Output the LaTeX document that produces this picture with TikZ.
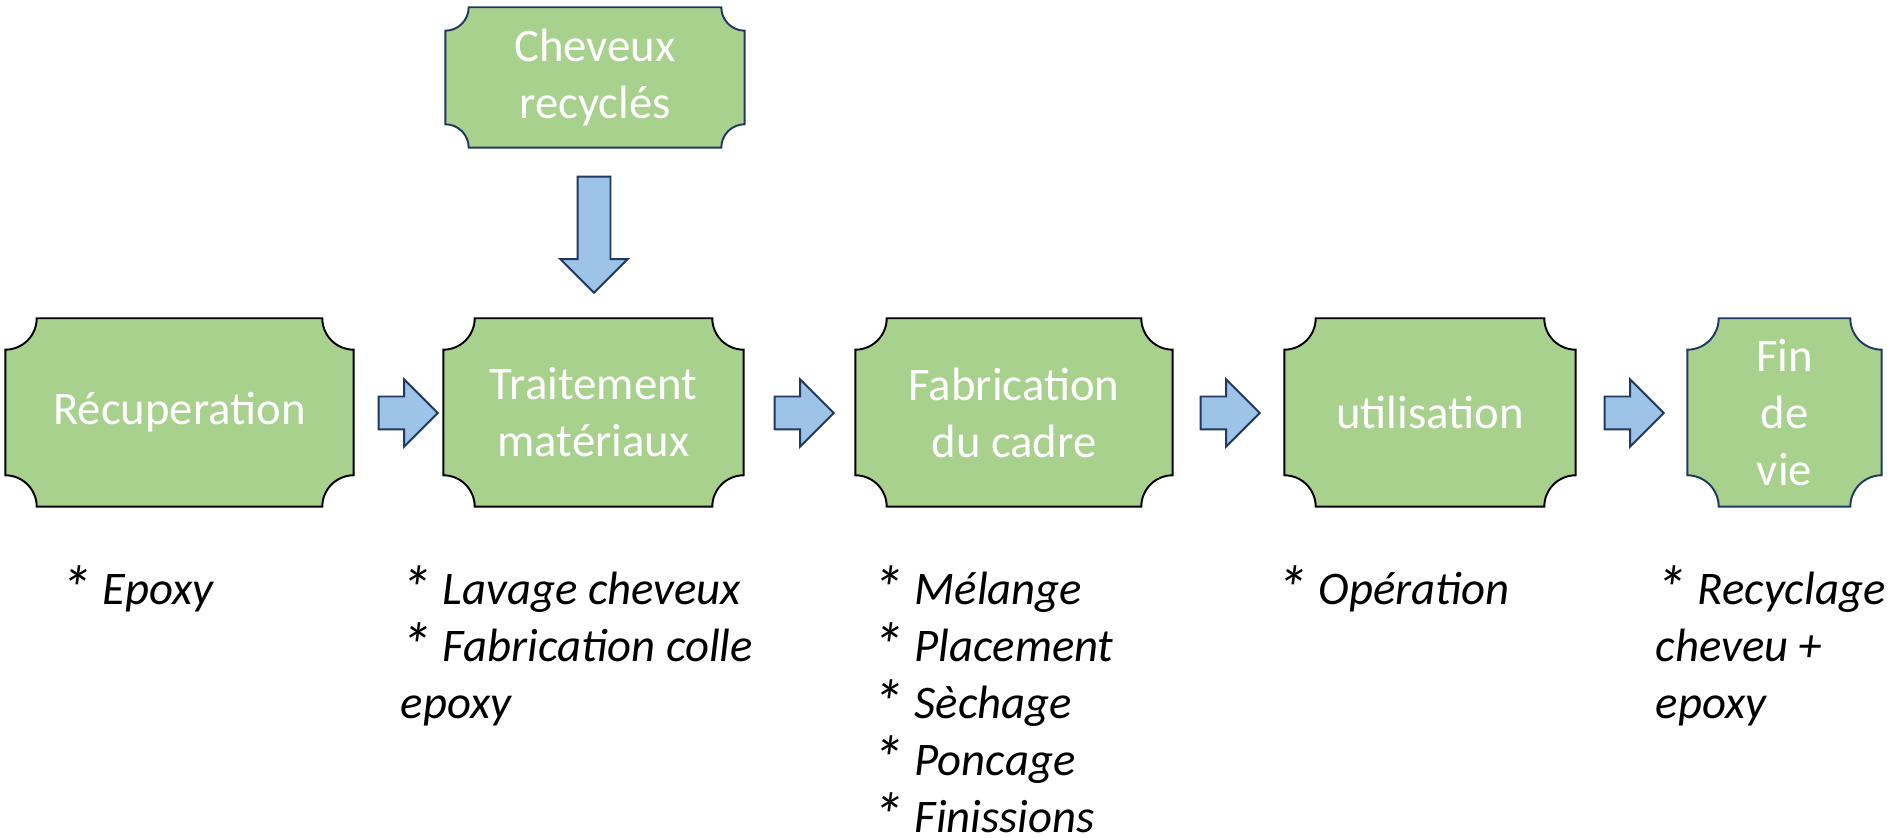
\documentclass[tikz,border=0pt]{standalone}
\usepackage{fontspec}
\setmainfont{Carlito}
\usetikzlibrary{shapes.arrows,backgrounds,calc}

\definecolor{plaquegreen}{HTML}{A9D18E}
\definecolor{arrowblue}{HTML}{9DC3E6}
\definecolor{navy}{HTML}{1F3864}

\newcommand\etoile{\raisebox{-.12em}{\scalebox{1.35}{*}}}

\tikzset{
  box/.style={inner sep=0pt, minimum height=1.87cm, text=white, align=center,
    font=\fontsize{13.3pt}{16.2pt}\selectfont},
  blockarrow/.style={single arrow, draw=navy, fill=arrowblue, line width=.55pt,
    inner sep=.155cm, minimum width=.65cm, minimum height=.59cm,
    single arrow head extend=.17cm, anchor=tail},
  note/.style={anchor=north west, inner sep=0pt, align=left,
    font=\fontsize{13.3pt}{16.2pt}\selectfont\itshape}
}

\begin{document}
\begin{tikzpicture}
    \useasboundingbox (0,0) rectangle (18.95,8.38);

    % etapes
    \node[box, minimum width=3.47cm] (recup) at (1.795,4.255) {Récuperation};
    \node[box, minimum width=2.99cm] (trait) at (5.935,4.255) {Traitement\\matériaux};
    \node[box, minimum width=3.16cm] (fab) at (10.14,4.255) {Fabrication\\du cadre};
    \node[box, minimum width=2.90cm] (util) at (14.30,4.255) {utilisation};
    \node[box, minimum width=1.93cm] (fin) at (17.845,4.255) {Fin\\de\\vie};
    \node[box, minimum width=2.98cm, minimum height=1.39cm] (chev) at (5.95,7.605) {Cheveux\\recyclés};

    % plaques
    \begin{scope}[on background layer]
    \foreach \nd/\col in {recup/black, trait/black, fab/black, util/black, fin/navy, chev/navy}
        \path[draw=\col, fill=plaquegreen, line width=.55pt]
            let \p1=(\nd.south west), \p2=(\nd.north east),
                \n1={min(\x2-\x1,\y2-\y1)/6} in
            (\x1,\y1+\n1) arc[start angle=90, end angle=0, radius=\n1]
            -- (\x2-\n1,\y1) arc[start angle=180, end angle=90, radius=\n1]
            -- (\x2,\y2-\n1) arc[start angle=270, end angle=180, radius=\n1]
            -- (\x1+\n1,\y2) arc[start angle=0, end angle=-90, radius=\n1]
            -- cycle;
    \end{scope}

    % fleches
    \node[blockarrow] (a1) at ([xshift=.24cm, yshift=-.005cm]recup.east) {};
    \node[blockarrow] (a2) at ([xshift=.30cm, yshift=-.005cm]trait.east) {};
    \node[blockarrow] (a3) at ([xshift=.27cm, yshift=-.005cm]fab.east) {};
    \node[blockarrow] (a4) at ([xshift=.28cm, yshift=-.005cm]util.east) {};
    \node[blockarrow, minimum height=1.16cm, shape border rotate=270] (a5) at ([xshift=-.01cm, yshift=-.28cm]chev.south) {};

    % details
    \node[note] (recupTxt) at (0.60,2.74) {\strut\etoile{} Epoxy};
    \node[note] (traitTxt) at (4.00,2.74) {\strut\etoile{} Lavage cheveux\\\etoile{} Fabrication colle\\epoxy};
    \node[note] (fabTxt) at (8.72,2.74) {\strut\etoile{} Mélange\\\etoile{} Placement\\\etoile{} Sèchage\\\etoile{} Poncage\\\etoile{} Finissions};
    \node[note] (utilTxt) at (12.76,2.74) {\strut\etoile{} Opération};
    \node[note] (finTxt) at (16.55,2.74) {\strut\etoile{} Recyclage\\cheveu +\\epoxy};
\end{tikzpicture}
\end{document}
